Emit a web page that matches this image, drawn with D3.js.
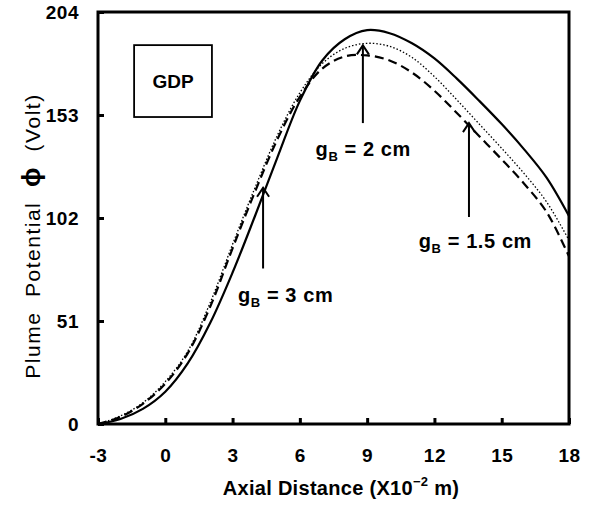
<!DOCTYPE html>
<html>
<head>
<meta charset="utf-8">
<script src="https://cdn.jsdelivr.net/npm/d3@7"></script>
<style>
  body { margin: 0; background: #fff; }
  svg { display: block; font-family: Arial, "Liberation Sans", sans-serif; }
</style>
</head>
<body>
<div id="chart"></div>
<script>
// dati
var axialX = [-3, -2, -1, 0, 1, 2, 3, 4, 5, 6, 7, 8, 9, 10, 11, 12, 13, 14, 15, 16, 17, 18];
var gB3 = [0, 2.5, 7.5, 16, 30, 50, 75, 103, 132, 160, 180, 190.5, 195, 193.5, 188.5, 181, 171, 160, 148.5, 136, 122, 103];
var gB2 = [0, 4, 10.5, 21, 36, 60, 89, 117, 143, 164, 178.5, 186, 188.5, 187, 181.5, 172, 160.5, 148.5, 136.5, 124, 110, 91];
var gB15 = [0, 3.5, 10, 20, 35, 58, 87, 115, 141, 162, 176, 182, 182.5, 180, 174, 165, 154, 142.5, 131, 119, 105, 83];
var xTicks = [-3, 0, 3, 6, 9, 12, 15, 18];
var yTicks = [0, 51, 102, 153, 204];

// frecce e etichette (in unità dei dati)
var arrows = [
  { x: 4.36, y0: 77, y1: 117 },
  { x: 8.81, y0: 149, y1: 187.5 },
  { x: 13.54, y0: 102.5, y1: 149 }
];
var notes = [
  { x: 3.24, y: 60.4, value: "3" },
  { x: 6.7, y: 132.7, value: "2" },
  { x: 11.3, y: 87.1, value: "1.5" }
];

var width = 591, height = 505;
var plotLeft = 98, plotRight = 569, plotTop = 12, plotBottom = 424;

var svg = d3.select("#chart").append("svg")
  .attr("width", width)
  .attr("height", height);

var x = d3.scaleLinear().domain([-3, 18]).range([plotLeft, plotRight]);
var y = d3.scaleLinear().domain([0, 204]).range([plotBottom, plotTop]);

// assi con tacche interne
var xAxis = svg.append("g")
  .attr("transform", "translate(0," + plotBottom + ")")
  .call(d3.axisBottom(x).tickValues(xTicks).tickFormat(String)
    .tickSizeInner(-6).tickSizeOuter(0).tickPadding(25));
var yAxis = svg.append("g")
  .attr("transform", "translate(" + plotLeft + ",0)")
  .call(d3.axisLeft(y).tickValues(yTicks).tickFormat(String)
    .tickSizeInner(-6).tickSizeOuter(0).tickPadding(19));

[xAxis, yAxis].forEach(function (g) {
  g.select(".domain").remove();
  g.selectAll(".tick line").attr("stroke", "#000").attr("stroke-width", 3);
  g.selectAll(".tick text")
    .attr("fill", "#000")
    .attr("font-size", "19px")
    .attr("font-weight", "bold")
    .attr("letter-spacing", "0.5px")
    .attr("font-family", "Arial, 'Liberation Sans', sans-serif");
});

// cornice
svg.append("rect")
  .attr("x", plotLeft).attr("y", plotTop)
  .attr("width", plotRight - plotLeft).attr("height", plotBottom - plotTop)
  .attr("fill", "none").attr("stroke", "#000").attr("stroke-width", 3);

// curve
var line = d3.line()
  .x(function (d) { return x(d[0]); })
  .y(function (d) { return y(d[1]); })
  .curve(d3.curveCatmullRom);

var series = [
  { values: gB3, width: 2.2, dash: null },
  { values: gB2, width: 1.3, dash: "1.5,2" },
  { values: gB15, width: 2.2, dash: "9,5" }
];

series.forEach(function (s) {
  svg.append("path")
    .datum(axialX.map(function (v, i) { return [v, s.values[i]]; }))
    .attr("d", line)
    .attr("fill", "none")
    .attr("stroke", "#000")
    .attr("stroke-width", s.width)
    .attr("stroke-dasharray", s.dash);
});

// frecce
arrows.forEach(function (a) {
  var ax = x(a.x), ya = y(a.y0), yb = y(a.y1);
  svg.append("line")
    .attr("x1", ax).attr("x2", ax).attr("y1", ya).attr("y2", yb)
    .attr("stroke", "#000").attr("stroke-width", 2);
  svg.append("path")
    .attr("d", "M" + (ax - 6) + "," + (yb + 9) + "L" + ax + "," + yb + "L" + (ax + 6) + "," + (yb + 9))
    .attr("fill", "none").attr("stroke", "#000").attr("stroke-width", 2);
});

// etichette gB
notes.forEach(function (n) {
  var t = svg.append("text")
    .attr("x", x(n.x)).attr("y", y(n.y))
    .attr("font-size", "20px")
    .attr("font-weight", "bold")
    .attr("letter-spacing", "0.6px")
    .style("white-space", "pre");
  t.append("tspan").text("g");
  t.append("tspan").attr("font-size", "13px").attr("dy", 5).text("B");
  t.append("tspan").attr("dy", -5).text(" = " + n.value + " cm");
});

// riquadro GDP
svg.append("rect")
  .attr("x", x(-1.39)).attr("y", y(187.6))
  .attr("width", x(2.08) - x(-1.39)).attr("height", y(152) - y(187.6))
  .attr("fill", "none").attr("stroke", "#000").attr("stroke-width", 1.8);
svg.append("text")
  .attr("x", (x(-1.39) + x(2.08)) / 2).attr("y", y(170) + 7)
  .attr("text-anchor", "middle")
  .attr("font-size", "19px")
  .attr("font-weight", "bold")
  .text("GDP");

// titoli assi
var xTitle = svg.append("text")
  .attr("x", 341).attr("y", 495)
  .attr("text-anchor", "middle")
  .attr("font-size", "20px")
  .attr("font-weight", "bold")
  .attr("letter-spacing", "0.3px");
xTitle.append("tspan").text("Axial Distance (X10");
xTitle.append("tspan").attr("font-size", "13px").attr("dy", -9).text("\u22122");
xTitle.append("tspan").attr("dy", 9).text(" m)");

var yTitle = svg.append("text")
  .attr("transform", "translate(40," + 236 + ") rotate(-90)")
  .attr("text-anchor", "middle")
  .attr("font-size", "21px")
  .attr("letter-spacing", "1.5px")
  .style("white-space", "pre");
yTitle.append("tspan").text("Plume  Potential  ");
yTitle.append("tspan").attr("font-size", "26px").attr("font-weight", "bold").text("\u03d5");
yTitle.append("tspan").text("  (Volt)");
</script>
</body>
</html>
